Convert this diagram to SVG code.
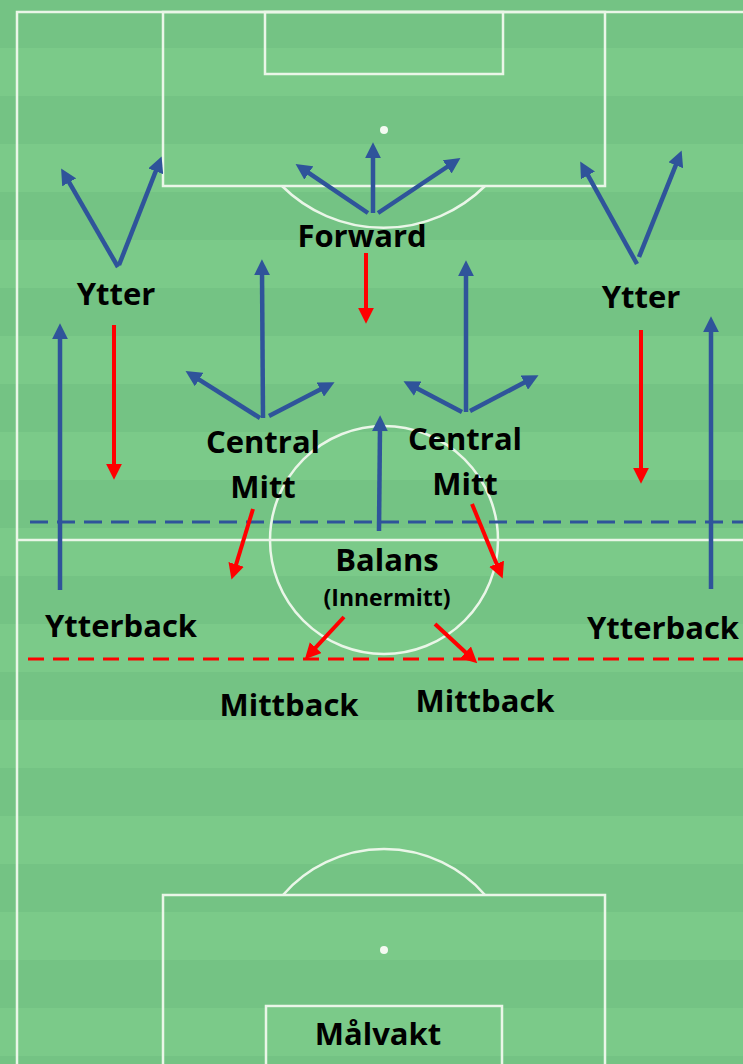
<svg xmlns="http://www.w3.org/2000/svg" width="743" height="1064" viewBox="0 0 743 1064">
  <style>
    .pitch { fill: none; stroke: #eaf6e8; stroke-width: 2.5; }
    .lbl { font-family: "Open Sans", Lato, "Liberation Sans", sans-serif; font-weight: 700; fill: #000; text-anchor: middle; }
    .big { font-size: 31px; }
    .small { font-size: 23px; }
    .blue { stroke: #2f549a; stroke-width: 4.5; fill: none; marker-end: url(#headBlue); }
    .red { stroke: #ff0000; stroke-width: 4; fill: none; marker-end: url(#headRed); }
    .dashBlue { stroke: #2f549a; stroke-width: 3; stroke-dasharray: 18 9; }
    .dashRed { stroke: #ff0000; stroke-width: 3; stroke-dasharray: 16 9; }
  </style>
  <defs>
    <pattern id="stripes" patternUnits="userSpaceOnUse" width="743" height="96">
      <rect width="743" height="48" fill="#74c384"/>
      <rect y="48" width="743" height="48" fill="#7bca89"/>
    </pattern>
    <marker id="headBlue" markerUnits="userSpaceOnUse" markerWidth="16" markerHeight="16" viewBox="0 0 15 15" refX="4" refY="7.5" orient="auto">
      <path d="M0,0 L15,7.5 L0,15 z" fill="#2f549a"/>
    </marker>
    <marker id="headRed" markerUnits="userSpaceOnUse" markerWidth="16" markerHeight="16" viewBox="0 0 15 15" refX="4" refY="7.5" orient="auto">
      <path d="M0,0 L15,7.5 L0,15 z" fill="#ff0000"/>
    </marker>
  </defs>

  <!-- grass -->
  <rect width="743" height="1064" fill="url(#stripes)"/>

  <!-- pitch markings -->
  <g id="pitch">
    <path class="pitch" d="M17,1064 V12 H743"/>
    <rect class="pitch" x="163" y="12" width="442" height="174"/>
    <rect class="pitch" x="265" y="12" width="238" height="62"/>
    <path class="pitch" d="M282,186 A144,144 0 0 0 485,186"/>
    <circle cx="384" cy="130" r="4" fill="#f4faf2"/>
    <line class="pitch" x1="17" y1="540" x2="743" y2="540"/>
    <circle class="pitch" cx="384" cy="540" r="114"/>
    <rect class="pitch" x="163" y="895" width="442" height="180"/>
    <rect class="pitch" x="266" y="1006" width="236" height="70"/>
    <path class="pitch" d="M283,895 A134,134 0 0 1 485,895"/>
    <circle cx="384" cy="950" r="4" fill="#f4faf2"/>
  </g>

  <!-- team lines -->
  <g id="lines">
    <line class="dashBlue" x1="30" y1="522" x2="743" y2="522"/>
    <line class="dashRed" x1="28" y1="659" x2="743" y2="659"/>
  </g>

  <!-- movement arrows -->
  <g id="connectors">
    <line class="blue" x1="118" y1="267" x2="67" y2="178.7"/>
    <line class="blue" x1="119" y1="265" x2="157.3" y2="167.3"/>
    <line class="blue" x1="368" y1="213" x2="305.3" y2="170.6"/>
    <line class="blue" x1="373" y1="213" x2="373" y2="154"/>
    <line class="blue" x1="378" y1="213" x2="450.7" y2="164.5"/>
    <line class="blue" x1="263" y1="418" x2="262" y2="271"/>
    <line class="blue" x1="260" y1="418" x2="195.5" y2="377.3"/>
    <line class="blue" x1="269" y1="416" x2="324.1" y2="387.6"/>
    <line class="blue" x1="466" y1="412" x2="466" y2="272"/>
    <line class="blue" x1="462" y1="412" x2="413.9" y2="386.7"/>
    <line class="blue" x1="470" y1="411" x2="528.1" y2="380.6"/>
    <line class="blue" x1="379" y1="531" x2="380" y2="427"/>
    <line class="blue" x1="60" y1="590" x2="60" y2="335"/>
    <line class="blue" x1="711" y1="589" x2="711" y2="328"/>
    <line class="blue" x1="637" y1="264" x2="585.9" y2="171.7"/>
    <line class="blue" x1="639" y1="257" x2="677.3" y2="161.3"/>

    <line class="red" x1="114" y1="325" x2="114" y2="468"/>
    <line class="red" x1="366" y1="253" x2="366" y2="312"/>
    <line class="red" x1="641" y1="330" x2="641" y2="472"/>
    <line class="red" x1="253" y1="509" x2="234.9" y2="568.4"/>
    <line class="red" x1="472" y1="504" x2="498.2" y2="567.7"/>
    <line class="red" x1="344" y1="617" x2="312.8" y2="650.7"/>
    <line class="red" x1="435" y1="624" x2="468.7" y2="655.2"/>
  </g>

  <!-- players -->
  <g id="ytter-left"><text class="lbl big" x="116" y="305">Ytter</text></g>
  <g id="forward"><text class="lbl big" x="362" y="247">Forward</text></g>
  <g id="ytter-right"><text class="lbl big" x="641" y="308">Ytter</text></g>
  <g id="central-mitt-left">
    <text class="lbl big" x="263" y="453">Central</text>
    <text class="lbl big" x="263" y="498">Mitt</text>
  </g>
  <g id="central-mitt-right">
    <text class="lbl big" x="465" y="450">Central</text>
    <text class="lbl big" x="465" y="495">Mitt</text>
  </g>
  <g id="balans">
    <text class="lbl big" x="387" y="571">Balans</text>
    <text class="lbl small" x="387" y="606">(Innermitt)</text>
  </g>
  <g id="ytterback-left"><text class="lbl big" x="121" y="637">Ytterback</text></g>
  <g id="ytterback-right"><text class="lbl big" x="663" y="639">Ytterback</text></g>
  <g id="mittback-left"><text class="lbl big" x="289" y="716">Mittback</text></g>
  <g id="mittback-right"><text class="lbl big" x="485" y="712">Mittback</text></g>
  <g id="malvakt"><text class="lbl big" x="378" y="1045">Målvakt</text></g>
</svg>
